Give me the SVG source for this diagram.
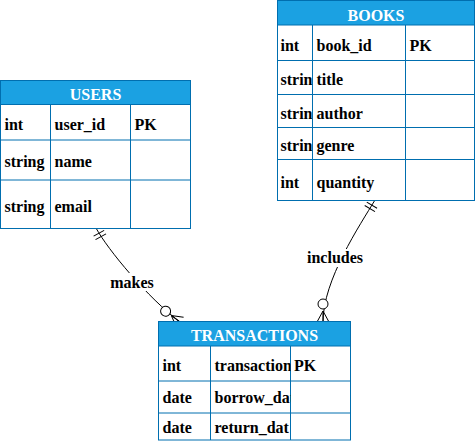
<svg xmlns="http://www.w3.org/2000/svg" width="476" height="441" viewBox="0 0 476 441">
<style>
.box{fill:#ffffff;stroke:#006eaf;stroke-width:1}
.hdr{fill:#1ba1e2;stroke:#006eaf;stroke-width:1}
.ln{stroke:#006eaf;stroke-width:1;fill:none}
text{font-family:"Liberation Serif","Times New Roman",serif;font-weight:bold;font-size:16px;fill:#000}
.ht{fill:#ffffff;text-anchor:middle}
.edge{fill:none;stroke:#000;stroke-width:1}
.lbl{text-anchor:middle}
</style>
<defs>
<clipPath id="cB1"><rect x="277" y="0" width="35.5" height="441"/></clipPath>
<clipPath id="cT2"><rect x="210" y="0" width="80.5" height="441"/></clipPath>
<marker id="mandOne" markerUnits="userSpaceOnUse" orient="auto" markerWidth="20" markerHeight="20" refX="0" refY="10" viewBox="0 0 20 20" overflow="visible">
<path d="M6 4 L6 16 M10 4 L10 16" stroke="#000" stroke-width="1" fill="none"/>
</marker>
<marker id="zeroMany" markerUnits="userSpaceOnUse" orient="auto" markerWidth="30" markerHeight="20" refX="30" refY="10" viewBox="0 0 30 20" overflow="visible">
<circle cx="12" cy="10" r="5" fill="#fff" stroke="#000" stroke-width="1"/>
<path d="M19 10 L30 4 M19 10 L30 10 M19 10 L30 16" stroke="#000" stroke-width="1" fill="none"/>
</marker>
</defs>

<g id="connectors">
<path class="edge" d="M96 228 C108 250 148 298 180 322" marker-start="url(#mandOne)" marker-end="url(#zeroMany)"/>
<path class="edge" d="M375 200 C360 225 323 280 323 322" marker-start="url(#mandOne)" marker-end="url(#zeroMany)"/>
<rect x="108" y="273" width="48" height="18" fill="#fff"/>
<text class="lbl" x="132" y="288">makes</text>
<rect x="305" y="249" width="60" height="18" fill="#fff"/>
<text class="lbl" x="335" y="263">includes</text>
</g>

<g id="users">
<rect class="box" x="0.5" y="80.5" width="190" height="148"/>
<rect class="hdr" x="0.5" y="80.5" width="190" height="24"/>
<text class="ht" x="95.5" y="99.5">USERS</text>
<path class="ln" d="M0.5 140 H190.5 M0.5 180 H190.5 M50.5 104.5 V228.5 M130.5 104.5 V228.5"/>
<text x="4.5" y="130">int</text><text x="54.5" y="130">user_id</text><text x="134.5" y="130">PK</text>
<text x="4.5" y="167">string</text><text x="54.5" y="167">name</text>
<text x="4.5" y="212">string</text><text x="54.5" y="212">email</text>
</g>

<g id="books">
<rect class="box" x="277.5" y="0.5" width="197" height="200"/>
<rect class="hdr" x="277.5" y="0.5" width="197" height="24.5"/>
<text class="ht" x="376" y="20.5">BOOKS</text>
<path class="ln" d="M277.5 60.5 H474.5 M277.5 94.5 H474.5 M277.5 127.5 H474.5 M277.5 159.5 H474.5 M312.5 25 V200.5 M405.5 25 V200.5"/>
<text x="280.5" y="50.5">int</text><text x="316.5" y="50.5">book_id</text><text x="409.5" y="50.5">PK</text>
<text x="280.5" y="85" clip-path="url(#cB1)">strin</text><text x="316.5" y="85">title</text>
<text x="280.5" y="119" clip-path="url(#cB1)">strin</text><text x="316.5" y="119">author</text>
<text x="280.5" y="151" clip-path="url(#cB1)">strin</text><text x="316.5" y="151">genre</text>
<text x="280.5" y="188">int</text><text x="316.5" y="188">quantity</text>
</g>

<g id="transactions">
<rect class="box" x="158.5" y="321.5" width="192" height="118.5"/>
<rect class="hdr" x="158.5" y="321.5" width="192" height="24.5"/>
<text class="ht" x="254.5" y="341">TRANSACTIONS</text>
<path class="ln" d="M158.5 381 H350.5 M158.5 413 H350.5 M210.5 346 V440 M290.5 346 V440"/>
<text x="162.5" y="370.5">int</text><text x="214.5" y="370.5" clip-path="url(#cT2)">transaction</text><text x="294" y="370.5">PK</text>
<text x="162.5" y="403">date</text><text x="214.5" y="403" clip-path="url(#cT2)">borrow_dat</text>
<text x="162.5" y="433">date</text><text x="214.5" y="433" clip-path="url(#cT2)">return_dat</text>
</g>
</svg>
